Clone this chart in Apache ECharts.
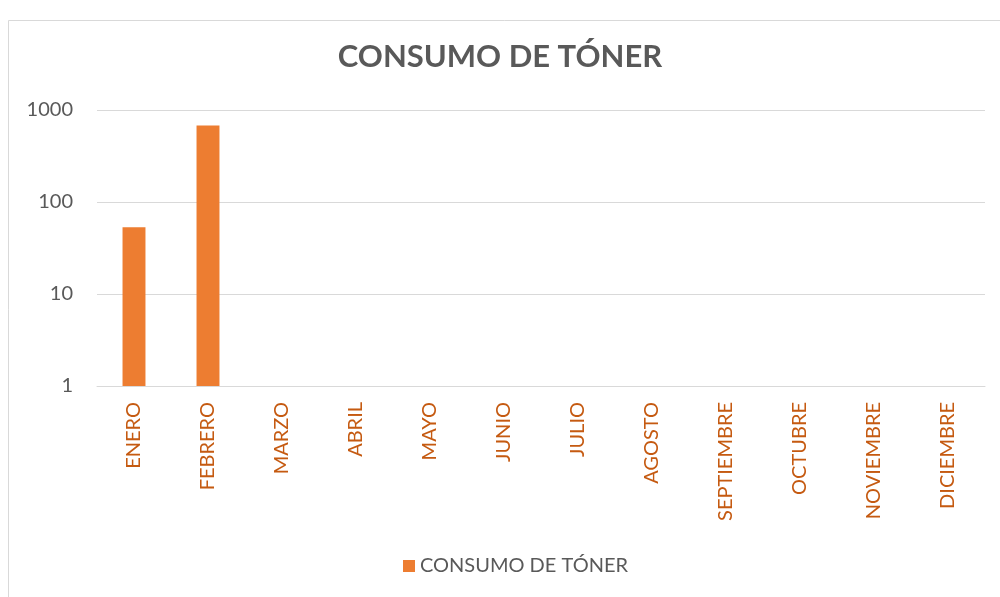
<!DOCTYPE html>
<html><head><meta charset="utf-8">
<script src="https://cdn.jsdelivr.net/npm/echarts@6/dist/echarts.min.js"></script>
<style>html,body{margin:0;padding:0;background:#fff}#c{width:1000px;height:597px}</style>
</head><body><div id="c"></div>
<script>
const categories = ['ENERO','FEBRERO','MARZO','ABRIL','MAYO','JUNIO','JULIO','AGOSTO','SEPTIEMBRE','OCTUBRE','NOVIEMBRE','DICIEMBRE'];
const consumo = [53, 678, null, null, null, null, null, null, null, null, null, null];
const seriesName = 'CONSUMO DE TÓNER';
const titleText = 'CONSUMO DE TÓNER';

const chart = echarts.init(document.getElementById('c'), null, {renderer:'canvas'});
chart.setOption({
  backgroundColor: '#fff',
  animation: false,
  graphic: [{type:'rect', shape:{x:8.5,y:20.5,width:1000,height:600}, style:{fill:'none', stroke:'#d9d9d9', lineWidth:1}, silent:true}],
  title: {text: titleText, left: 'center', top: 36,
    textStyle:{fontFamily:'Lato', fontWeight:'bold', fontSize:31, color:'#595959'}},
  legend: {bottom: 16, left: 398, itemWidth: 12, itemHeight: 12, icon: 'rect', itemGap: 6,
    textStyle:{fontFamily:'Lato', fontSize:20, color:'#595959'}},
  grid: {left: 97, right: 15, top: 110, bottom: 211, containLabel: false},
  xAxis: {type:'category', data: categories,
    axisLine:{show:true, lineStyle:{color:'#d9d9d9'}}, axisTick:{show:false},
    axisLabel:{rotate:90, margin:16, fontFamily:'Lato', fontSize:20, color:'#c55a11', interval:0}},
  yAxis: {type:'log', logBase:10, min:1, max:1000,
    axisLine:{show:false}, axisTick:{show:false},
    splitLine:{lineStyle:{color:'#d9d9d9', width:1}},
    axisLabel:{margin:24, fontFamily:'Lato', fontSize:20, color:'#595959',
      formatter: v => String(Math.round(v))}},
  series: [{name: seriesName, type:'bar', data: consumo, barWidth:'31%',
    itemStyle:{color:'#ed7d31'}}]
});
</script></body></html>
